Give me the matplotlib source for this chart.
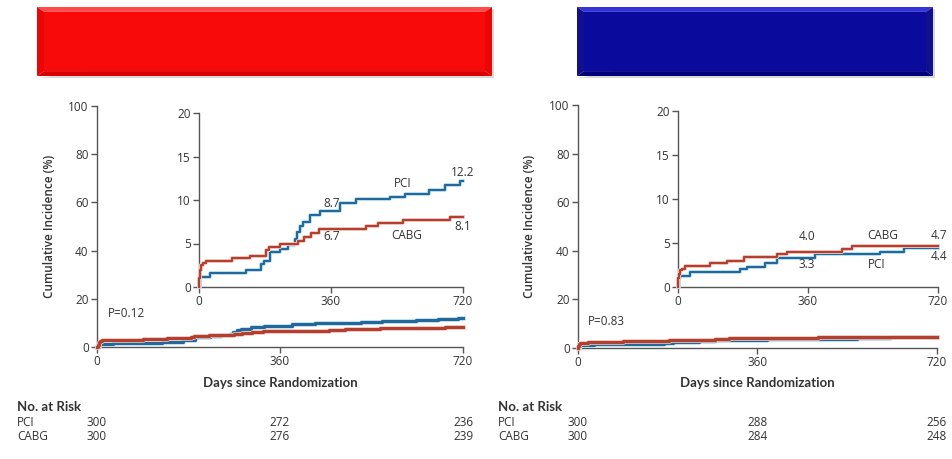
import matplotlib
matplotlib.use("Agg")
import matplotlib.pyplot as plt
from matplotlib.patches import Polygon
from matplotlib.transforms import blended_transform_factory
import matplotlib.patheffects as pe

plt.rcParams['font.family'] = ['Open Sans', 'DejaVu Sans']

# ---------------- data ----------------
left_pci_t = [0, 4, 31, 127, 170, 178, 193, 222, 243, 261, 268, 275, 283, 302, 329, 384, 429, 520, 561, 627, 670, 711, 720]
left_pci_v = [0, 1.2, 1.6, 2.0, 2.7, 3.0, 4.0, 4.4, 4.8, 5.5, 6.3, 7.0, 7.5, 8.3, 8.7, 9.7, 10.1, 10.4, 10.7, 11.1, 11.7, 12.2, 12.2]
left_cabg_t = [0, 1, 3, 5, 10, 20, 91, 138, 184, 190, 220, 261, 270, 285, 305, 327, 456, 488, 556, 684, 720]
left_cabg_v = [0, 1.0, 2.0, 2.5, 2.8, 3.0, 3.3, 3.6, 4.2, 4.6, 4.9, 5.0, 5.3, 5.7, 6.2, 6.7, 7.0, 7.4, 7.7, 8.1, 8.1]

right_pci_t = [0, 2, 5, 32, 173, 191, 242, 274, 380, 560, 625, 720]
right_pci_v = [0, 1.0, 1.3, 1.7, 2.0, 2.3, 2.7, 3.3, 3.7, 4.0, 4.4, 4.4]
right_cabg_t = [0, 1, 3, 5, 11, 20, 90, 136, 182, 274, 302, 454, 482, 720]
right_cabg_v = [0, 1.0, 1.5, 1.9, 2.1, 2.4, 2.7, 3.0, 3.4, 3.7, 4.0, 4.3, 4.7, 4.7]

risk_days = [0, 360, 720]
left_risk_pci = [300, 272, 236]
left_risk_cabg = [300, 276, 239]
right_risk_pci = [300, 288, 256]
right_risk_cabg = [300, 284, 248]

p_values = ["P=0.12", "P=0.83"]

main_yticks = [0, 20, 40, 60, 80, 100]
inset_yticks = [0, 5, 10, 15, 20]
xticks = [0, 360, 720]

BLUE = "#24679a"
RED = "#b3402f"
TXT = "#333333"
SPINE = "#555555"
BOLD_FONT = ['Lato', 'DejaVu Sans']

W, H = 953, 459
fig = plt.figure(figsize=(W / 100, H / 100), dpi=100)

def fbox(x0, y0, x1, y1):
    return [x0 / W, 1 - y1 / H, (x1 - x0) / W, (y1 - y0) / H]

# ---------------- banners ----------------
bg = fig.add_axes([0, 0, 1, 1], zorder=-5)
bg.set_xlim(0, W)
bg.set_ylim(H, 0)
bg.axis('off')

def banner(x0, y0, x1, y1, center, top, bottom, side_l, side_r, b=7):
    bg.add_patch(Polygon([(x0+2, y1+2), (x1+2, y1+2), (x1+2, y0+2)], closed=True, fc="#d8d8d8", ec='none'))
    bg.add_patch(Polygon([(x0, y0), (x1, y0), (x1 - b, y0 + b*0.7), (x0 + b, y0 + b*0.7)], closed=True, fc=top, ec='none'))
    bg.add_patch(Polygon([(x0, y1), (x1, y1), (x1 - b, y1 - b*0.7), (x0 + b, y1 - b*0.7)], closed=True, fc=bottom, ec='none'))
    bg.add_patch(Polygon([(x0, y0), (x0 + b, y0 + b*0.7), (x0 + b, y1 - b*0.7), (x0, y1)], closed=True, fc=side_l, ec='none'))
    bg.add_patch(Polygon([(x1, y0), (x1 - b, y0 + b*0.7), (x1 - b, y1 - b*0.7), (x1, y1)], closed=True, fc=side_r, ec='none'))
    bg.add_patch(Polygon([(x0 + b, y0 + b*0.7), (x1 - b, y0 + b*0.7), (x1 - b, y1 - b*0.7), (x0 + b, y1 - b*0.7)], closed=True, fc=center, ec='none'))

banner(37, 7, 492, 76, "#f80a0a", "#ff4a4a", "#d80000", "#e80606", "#e80606")
banner(577, 7, 933, 76, "#0a0a9c", "#3434d8", "#00007a", "#10108c", "#10108c")

# ---------------- axes helpers ----------------
def style(ax, yticks, ymax):
    ax.set_xlim(0, 720)
    ax.set_ylim(0, ymax)
    ax.set_xticks(xticks)
    ax.set_yticks(yticks)
    for s in ['top', 'right']:
        ax.spines[s].set_visible(False)
    for s in ['left', 'bottom']:
        ax.spines[s].set_color(SPINE)
        ax.spines[s].set_linewidth(1.0)
    ax.tick_params(axis='both', direction='out', length=4, width=1.0, color=SPINE,
                   labelsize=8.5, labelcolor=TXT, pad=2)
    ax.patch.set_alpha(0)

def curves(ax, pci_t, pci_v, cabg_t, cabg_v, lw, halo):
    ax.step(pci_t, pci_v, where='post', color=BLUE, lw=lw, clip_on=False, zorder=3,
            path_effects=[pe.Stroke(linewidth=lw + halo, foreground="#c6ecf7"), pe.Normal()])
    ax.step(cabg_t, cabg_v, where='post', color=RED, lw=lw, clip_on=False, zorder=4,
            path_effects=[pe.Stroke(linewidth=lw + halo, foreground="#f5d2cc"), pe.Normal()])

panels = [
    dict(main=fbox(97, 106, 463, 347), inset=fbox(199, 113, 463, 287),
         pci=(left_pci_t, left_pci_v), cabg=(left_cabg_t, left_cabg_v),
         p=p_values[0], p_xy=(22, 13.7), ylab_x=50, risk_x=17,
         rp=left_risk_pci, rc=left_risk_cabg,
         labels=[("PCI", 556, 11.9, 'center'), ("12.2", 720, 13.2, 'center'),
                 ("8.7", 361, 9.6, 'center'), ("6.7", 361, 5.75, 'center'),
                 ("CABG", 566, 5.9, 'center'), ("8.1", 720, 6.9, 'center')]),
    dict(main=fbox(578, 105, 937, 348), inset=fbox(678, 111, 938, 287),
         pci=(right_pci_t, right_pci_v), cabg=(right_cabg_t, right_cabg_v),
         p=p_values[1], p_xy=(20, 10.7), ylab_x=530, risk_x=498,
         rp=right_risk_pci, rc=right_risk_cabg,
         labels=[("4.0", 357, 5.7, 'center'), ("CABG", 568, 5.8, 'center'),
                 ("4.7", 722, 5.8, 'center'), ("3.3", 357, 2.6, 'center'),
                 ("PCI", 551, 2.5, 'center'), ("4.4", 722, 3.5, 'center')]),
]

for P in panels:
    ax = fig.add_axes(P['main'])
    style(ax, main_yticks, 100)
    curves(ax, *P['pci'], *P['cabg'], lw=2.3, halo=1.0)
    ax.text(P['p_xy'][0], P['p_xy'][1], P['p'], fontsize=8.5, color=TXT, va='center', ha='left')

    # y label
    tr = blended_transform_factory(fig.transFigure, ax.transAxes)
    ax.text(P['ylab_x'] / W, 0.5, "Cumulative Incidence (%)", transform=tr, rotation=90,
            ha='center', va='center', fontsize=8.5, fontweight='semibold', color=TXT)
    # x label
    trx = blended_transform_factory(ax.transData, fig.transFigure)
    ax.text(360, 1 - 383 / H, "Days since Randomization", transform=trx, ha='center', va='center',
            fontsize=9.5, fontweight='bold', color=TXT, family=BOLD_FONT)

    # number at risk
    fig.text(P['risk_x'] / W, 1 - 407 / H, "No. at Risk", ha='left', va='center',
             fontsize=9.5, fontweight='bold', color=TXT, family=BOLD_FONT)
    fig.text(P['risk_x'] / W, 1 - 423 / H, "PCI", ha='left', va='center', fontsize=8.5, color=TXT)
    fig.text(P['risk_x'] / W, 1 - 437 / H, "CABG", ha='left', va='center', fontsize=8.5, color=TXT)
    for d, n1, n2 in zip(risk_days, P['rp'], P['rc']):
        ax.text(d, 1 - 423 / H, str(n1), transform=trx, ha='center', va='center', fontsize=8.5, color=TXT)
        ax.text(d, 1 - 437 / H, str(n2), transform=trx, ha='center', va='center', fontsize=8.5, color=TXT)

    ins = fig.add_axes(P['inset'])
    style(ins, inset_yticks, 20)
    curves(ins, *P['pci'], *P['cabg'], lw=1.6, halo=1.2)
    for t, x, y, ha in P['labels']:
        ins.text(x, y, t, fontsize=8.5, color=TXT, ha=ha, va='center')

fig.savefig("out.png", dpi=100)
